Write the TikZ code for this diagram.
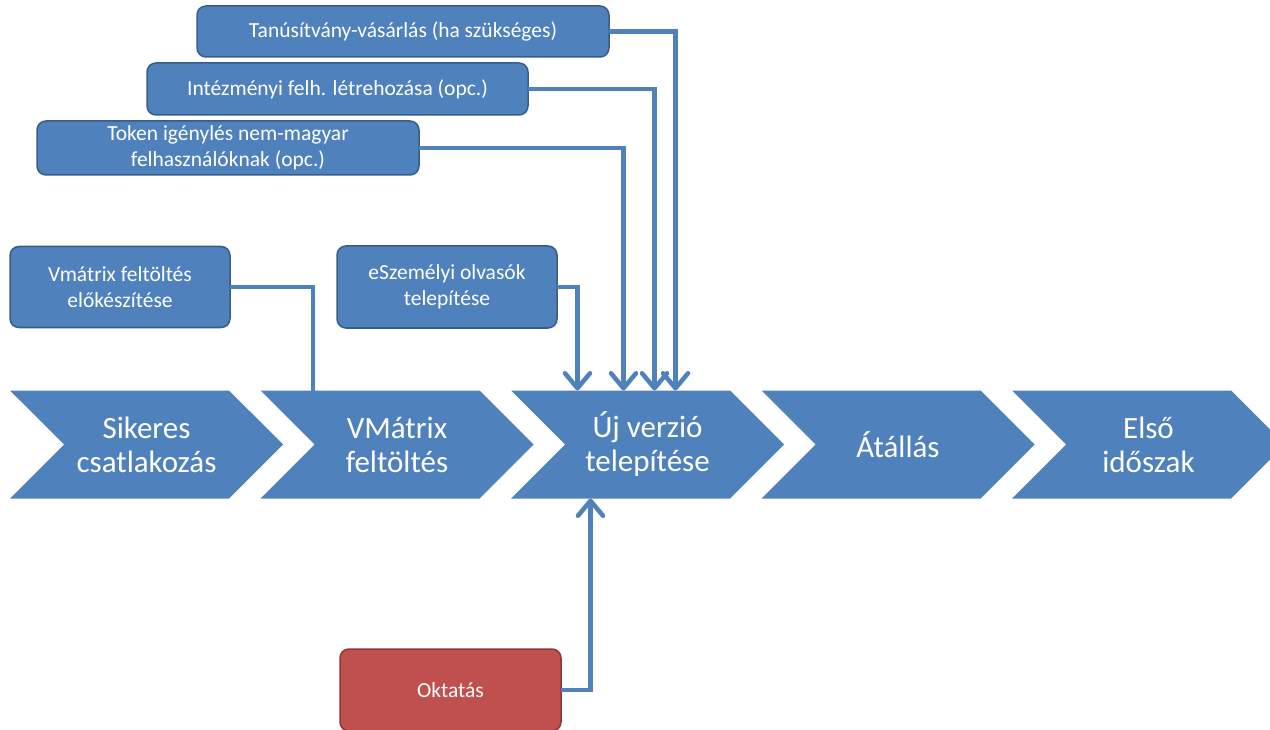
\documentclass[tikz,border=0pt]{standalone}
\usepackage{fontspec}
\setmainfont{Carlito}
\usetikzlibrary{shapes.symbols,arrows.meta}
\definecolor{accblue}{HTML}{4F81BD}
\definecolor{accblueline}{HTML}{385D8A}
\definecolor{accred}{HTML}{C0504D}
\definecolor{accredline}{HTML}{8C3836}
\tikzset{
  chev/.style={signal,signal to=east,signal from=west,signal pointer angle=90,
    fill=accblue,draw=none,minimum width=273pt,minimum height=108pt,
    inner sep=0pt,outer sep=0pt,text=white,align=center,
    font=\fontsize{31}{34}\selectfont},
  task/.style={draw=accblueline,line width=1.5pt,fill=accblue,rounded corners=9pt,
    inner sep=0pt,outer sep=0pt,text=white,align=center,
    font=\fontsize{21.5}{26}\selectfont},
  conn/.style={draw=accblue,line width=4.5pt},
  arr/.style={-{Straight Barb[length=15pt,width=25pt,round]}}
}
\begin{document}
\begin{tikzpicture}[x=1pt,y=-1pt]
\useasboundingbox (0,0) rectangle (1270,730);
\node[chev] (chev_1) at (146.5,444.5) {Sikeres\\csatlakozás};
\node[chev] (chev_2) at (397,444.5) {VMátrix\\feltöltés};
\node[chev] (chev_3) at (647.5,444.5) {Új verzió\\telepítése};
\node[chev] (chev_4) at (898,444.5) {Átállás};
\node[chev] (chev_5) at (1148.5,444.5) {Első\\időszak};
\node[task,minimum width=412pt,minimum height=51pt] (task_tanu) at (403,31.5) {Tanúsítvány-vásárlás (ha szükséges)};
\node[task,minimum width=381pt,minimum height=52pt] (task_intez) at (337.5,89) {Intézményi felh. létrehozása (opc.)};
\node[task,minimum width=382pt,minimum height=54pt] (task_token) at (228,148) {Token igénylés nem-magyar\\felhasználóknak (opc.)};
\node[task,minimum width=220pt,minimum height=81pt] (task_vmprep) at (120,287) {Vmátrix feltöltés\\előkészítése};
\node[task,minimum width=220pt,minimum height=82pt] (task_eszem) at (447,287) {eSzemélyi olvasók\\telepítése};
\node[task,fill=accred,draw=accredline,minimum width=221pt,minimum height=82pt] (task_okt) at (450.5,690) {Oktatás};
\draw[conn] (task_vmprep.east) -| ([xshift=-84pt]chev_2.north);
\draw[conn,arr] (task_eszem.east) -| ([xshift=-70pt]chev_3.north);
\draw[conn,arr] (task_token.east) -| ([xshift=-24pt]chev_3.north);
\draw[conn,arr] (task_intez.east) -| ([xshift=7pt]chev_3.north);
\draw[conn,arr] (task_tanu.east) -| ([xshift=28pt]chev_3.north);
\draw[conn,arr] (task_okt.east) -| ([xshift=-57pt]chev_3.south);
\end{tikzpicture}
\end{document}
